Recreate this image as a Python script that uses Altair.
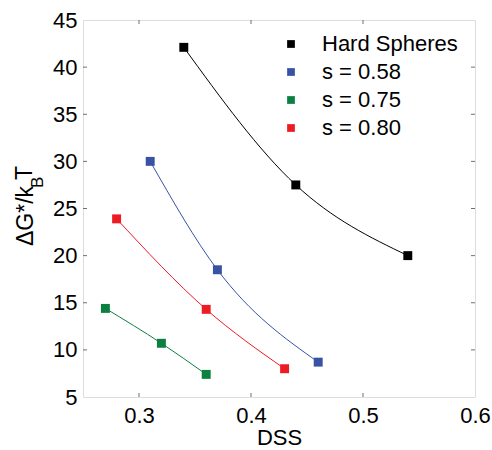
import altair as alt
import pandas as pd

# ---- data ----
series_names = ["Hard Spheres", "s = 0.58", "s = 0.75", "s = 0.80"]
series_colors = ["#000000", "#3953a4", "#0b8040", "#ed1c24"]

hs_x = [0.34, 0.44, 0.54]
hs_y = [42.1, 27.5, 20.0]
s058_x = [0.31, 0.37, 0.46]
s058_y = [30.0, 18.5, 8.7]
s075_x = [0.27, 0.32, 0.36]
s075_y = [14.4, 10.7, 7.4]
s080_x = [0.28, 0.36, 0.43]
s080_y = [23.9, 14.3, 8.0]

x_tick_values = [0.3, 0.4, 0.5, 0.6]
y_tick_values = [5, 10, 15, 20, 25, 30, 35, 40, 45]
x_inner_ticks = [0.3, 0.4, 0.5]
y_inner_ticks = [10, 15, 20, 25, 30, 35, 40]

rows = []
for name, xs, ys in zip(series_names,
                        [hs_x, s058_x, s075_x, s080_x],
                        [hs_y, s058_y, s075_y, s080_y]):
    for i, (xv, yv) in enumerate(zip(xs, ys)):
        rows.append({"series": name, "DSS": xv, "G": yv, "order": i})
df = pd.DataFrame(rows)

W, H = 392, 377
FONT = "Liberation Sans"
AXIS_GRAY = "#707070"

xs = alt.Scale(domain=[0.25, 0.6], nice=False, zero=False)
ys = alt.Scale(domain=[5, 45], nice=False, zero=False)
color = alt.Color(
    "series:N",
    scale=alt.Scale(domain=series_names, range=series_colors),
    sort=series_names,
    legend=alt.Legend(
        title=None, orient="none", legendX=197, legendY=13,
        symbolType="square", symbolSize=60, symbolStrokeWidth=0,
        labelFontSize=22, labelFont=FONT, labelColor="#000000",
        labelOffset=20, rowPadding=6, padding=0,
    ),
)

xaxis = alt.Axis(values=x_tick_values, format=".1f", ticks=False, domain=False,
                 grid=False, labelFlush=False, labelFontSize=22, labelFont=FONT,
                 labelColor="#000000", labelPadding=8, title="DSS",
                 titleFontSize=22, titleFont=FONT, titleFontWeight="normal",
                 titleColor="#000000", titlePadding=1)
yaxis = alt.Axis(values=y_tick_values, format="d", ticks=False, domain=False,
                 grid=False, labelFlush=False, labelFontSize=22, labelFont=FONT,
                 labelColor="#000000", labelPadding=6, title=None)

base = alt.Chart(df)
lines = base.mark_line(strokeWidth=1, interpolate="monotone").encode(
    x=alt.X("DSS:Q", scale=xs, axis=xaxis),
    y=alt.Y("G:Q", scale=ys, axis=yaxis),
    color=color,
    order="order:Q",
)
points = base.mark_point(shape="square", filled=True, size=80, opacity=1).encode(
    x=alt.X("DSS:Q", scale=xs),
    y=alt.Y("G:Q", scale=ys),
    color=alt.Color("series:N", scale=alt.Scale(domain=series_names, range=series_colors), legend=None),
)

xt = pd.DataFrame({"v": x_inner_ticks})
yt = pd.DataFrame({"v": y_inner_ticks})
tick_style = dict(color=AXIS_GRAY, strokeWidth=1)
bot = alt.Chart(xt).mark_rule(**tick_style).encode(
    x=alt.X("v:Q", scale=xs), y=alt.value(H), y2=alt.value(H - 4))
top = alt.Chart(xt).mark_rule(**tick_style).encode(
    x=alt.X("v:Q", scale=xs), y=alt.value(0), y2=alt.value(4))
lft = alt.Chart(yt).mark_rule(**tick_style).encode(
    y=alt.Y("v:Q", scale=ys), x=alt.value(0), x2=alt.value(4))
rgt = alt.Chart(yt).mark_rule(**tick_style).encode(
    y=alt.Y("v:Q", scale=ys), x=alt.value(W), x2=alt.value(W - 4))

# y-axis title with subscript, built from three text pieces
title_main = alt.Chart(pd.DataFrame({"t": ["ΔG*/k"]})).mark_text(
    angle=270, align="left", baseline="alphabetic", fontSize=23, font=FONT,
    color="#000000").encode(text="t:N", x=alt.value(-50), y=alt.value(226))
title_sub = alt.Chart(pd.DataFrame({"t": ["B"]})).mark_text(
    angle=270, align="left", baseline="alphabetic", fontSize=17, font=FONT,
    color="#000000").encode(text="t:N", x=alt.value(-40), y=alt.value(168))
title_T = alt.Chart(pd.DataFrame({"t": ["T"]})).mark_text(
    angle=270, align="left", baseline="alphabetic", fontSize=23, font=FONT,
    color="#000000").encode(text="t:N", x=alt.value(-51), y=alt.value(160))

chart = alt.layer(
    lines, points, bot, top, lft, rgt, title_main, title_sub, title_T
).properties(
    width=W, height=H,
    autosize=alt.AutoSizeParams(type="none"),
    padding={"left": 83, "top": 20, "right": 17, "bottom": 53},
).configure_view(stroke=AXIS_GRAY, strokeWidth=1).configure(background="white")

chart.save("out.html", embed_options={"renderer": "svg", "actions": False})
